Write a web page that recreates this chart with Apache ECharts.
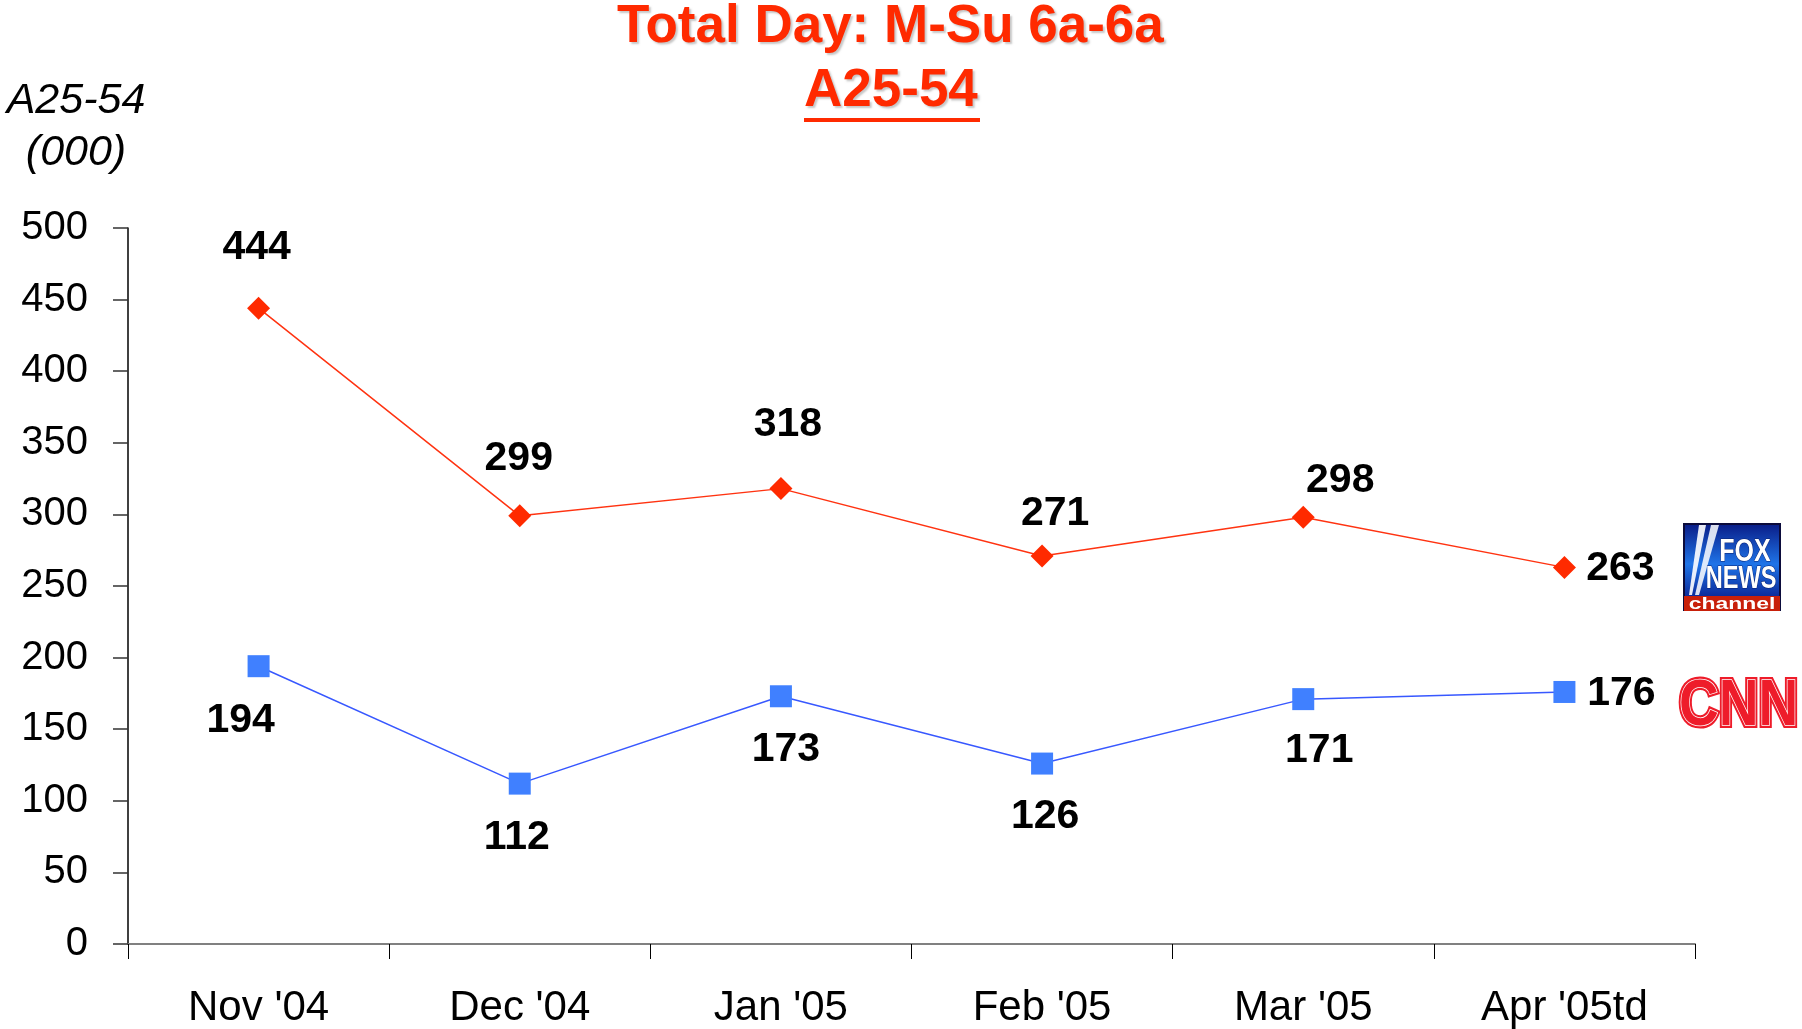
<!DOCTYPE html>
<html>
<head>
<meta charset="utf-8">
<script src="https://cdn.jsdelivr.net/npm/echarts@6/dist/echarts.min.js"></script>
<style>
html,body{margin:0;padding:0;background:#fff;}
#chart{width:1802px;height:1029px;}
</style>
</head>
<body>
<div id="chart"></div>
<script>
// ---- data ----
const categories = ["Nov '04", "Dec '04", "Jan '05", "Feb '05", "Mar '05", "Apr '05td"];
const foxValues = [444, 299, 318, 271, 298, 263];
const cnnValues = [194, 112, 173, 126, 171, 176];
const yTicks = { min: 0, max: 500, interval: 50 };

// label placement tweaks (center offset from marker, px)
const foxLabelOffsets = [[-2, -61], [-1, -57], [7, -64], [13, -42], [37, -37], [56, 1]];
const cnnLabelOffsets = [[-18, 54], [-3, 54], [5, 53], [3, 53], [16, 52], [57, 2]];

const FONT = 'Liberation Sans, Arial, Helvetica, sans-serif';
const RED = '#FF2A00';

const chart = echarts.init(document.getElementById('chart'), null, { renderer: 'canvas' });

function makeData(values, offsets) {
  return values.map((v, i) => ({ value: v, label: { offset: offsets[i] } }));
}

const labelStyle = {
  show: true,
  position: 'inside',
  color: '#000',
  fontFamily: FONT,
  fontWeight: 'bold',
  fontSize: 41
};

const titleStyle = {
  color: RED, fontFamily: FONT, fontWeight: 'bold', fontSize: 53, lineHeight: 53,
  textShadowColor: 'rgba(0,0,0,0.22)', textShadowOffsetX: 2, textShadowOffsetY: 2, textShadowBlur: 2
};

const option = {
  animation: false,
  backgroundColor: '#fff',
  title: [
    { text: 'Total Day: M-Su 6a-6a', left: 617, top: 1, padding: 0, textStyle: titleStyle },
    { text: 'A25-54', left: 804, top: 65, padding: 0, textStyle: titleStyle }
  ],
  grid: { left: 128, right: 107, top: 228, bottom: 84.5, containLabel: false },
  xAxis: {
    type: 'category',
    data: categories,
    boundaryGap: true,
    axisLine: { show: true, lineStyle: { color: '#808080', width: 2 } },
    axisTick: { show: true, inside: false, length: 15, lineStyle: { color: '#000', width: 1 } },
    axisLabel: { color: '#000', fontFamily: FONT, fontSize: 42, margin: 43 },
    splitLine: { show: false }
  },
  yAxis: {
    type: 'value',
    min: yTicks.min, max: yTicks.max, interval: yTicks.interval,
    name: 'A25-54\n(000)',
    nameLocation: 'end',
    nameGap: 49,
    nameTextStyle: {
      color: '#000', fontFamily: FONT, fontStyle: 'italic', fontSize: 43, lineHeight: 52,
      align: 'center', verticalAlign: 'bottom', padding: [0, 104, 0, 0]
    },
    axisLine: { show: true, lineStyle: { color: '#000', width: 1.5 } },
    axisTick: { show: true, inside: false, length: 15, lineStyle: { color: '#333', width: 1.5 } },
    axisLabel: { color: '#000', fontFamily: FONT, fontSize: 40, margin: 40 },
    splitLine: { show: false }
  },
  series: [
    {
      name: 'FOX News',
      type: 'line',
      data: makeData(foxValues, foxLabelOffsets),
      symbol: 'diamond',
      symbolSize: 23,
      lineStyle: { color: '#FF3311', width: 1.5 },
      itemStyle: { color: RED },
      label: labelStyle,
      z: 3
    },
    {
      name: 'CNN',
      type: 'line',
      data: makeData(cnnValues, cnnLabelOffsets),
      symbol: 'rect',
      symbolSize: 22,
      lineStyle: { color: '#3858FF', width: 1.5 },
      itemStyle: { color: '#4080FF' },
      label: labelStyle,
      z: 3
    }
  ],
  graphic: [
    // title underline
    { type: 'rect', shape: { x: 804, y: 118, width: 176, height: 4 }, style: { fill: RED } },
    // FOX NEWS channel logo
    {
      type: 'group', x: 1683, y: 523,
      children: [
        { type: 'rect', shape: { x: 0, y: 0, width: 98, height: 88 }, style: { fill: '#0B0B3B' } },
        {
          type: 'rect', shape: { x: 2, y: 2, width: 94, height: 71 },
          style: {
            fill: new echarts.graphic.LinearGradient(0, 0, 0, 1, [
              { offset: 0, color: '#0A1F8A' },
              { offset: 0.55, color: '#1F74E8' },
              { offset: 1, color: '#0C2C9C' }
            ])
          }
        },
        { type: 'polygon', shape: { points: [[16, 2], [23, 2], [9, 72], [6, 72]] }, style: { fill: 'rgba(255,255,255,0.9)' } },
        { type: 'polygon', shape: { points: [[28, 2], [36, 2], [16, 72], [12, 72]] }, style: { fill: 'rgba(255,255,255,0.85)' } },
        {
          type: 'text', x: 62, y: 29, scaleX: 0.78,
          style: { text: 'FOX', fill: '#fff', stroke: '#0A1F6A', lineWidth: 1, fontFamily: FONT, fontWeight: 'bold', fontSize: 32, align: 'center', verticalAlign: 'middle' }
        },
        {
          type: 'text', x: 58, y: 56, scaleX: 0.76,
          style: { text: 'NEWS', fill: '#fff', stroke: '#0A1F6A', lineWidth: 1, fontFamily: FONT, fontWeight: 'bold', fontSize: 31, align: 'center', verticalAlign: 'middle' }
        },
        { type: 'rect', shape: { x: 1, y: 73, width: 96, height: 15 }, style: { fill: '#C8200A' } },
        {
          type: 'text', x: 49, y: 81, scaleX: 1.35,
          style: { text: 'channel', fill: '#fff', fontFamily: FONT, fontWeight: 'bold', fontSize: 17, align: 'center', verticalAlign: 'middle' }
        }
      ]
    },
    // CNN logo
    {
      type: 'group', x: 1679, y: 707,
      children: [
        {
          type: 'text', x: 0, y: 0, scaleX: 0.86,
          style: { text: 'CNN', fill: '#EE1C2A', stroke: '#EE1C2A', lineWidth: 6, fontFamily: FONT, fontWeight: 'bold', fontSize: 64, align: 'left', verticalAlign: 'middle' }
        },
        {
          type: 'text', x: 0, y: 0, scaleX: 0.86,
          style: { text: 'CNN', fill: '#EE1C2A', stroke: '#fff', lineWidth: 1.5, fontFamily: FONT, fontWeight: 'bold', fontSize: 64, align: 'left', verticalAlign: 'middle' }
        }
      ]
    }
  ]
};

chart.setOption(option);
</script>
</body>
</html>
